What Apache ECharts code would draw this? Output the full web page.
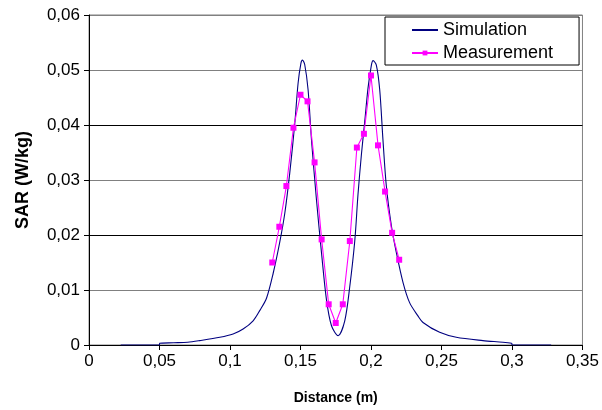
<!DOCTYPE html>
<html>
<head>
<meta charset="utf-8">
<script src="https://cdn.jsdelivr.net/npm/echarts@6/dist/echarts.min.js"></script>
<style>html,body{margin:0;padding:0;background:#fff;}#c{width:602px;height:410px;}</style>
</head>
<body>
<div id="c"></div>
<script>
// Simulation curve (x in m, SAR in W/kg)
var simX = [0.0225,0.05,0.0501,0.06,0.07,0.0786,0.0928,0.1022,0.1093,0.1164,0.1212,0.1259,0.1306,0.1353,0.1389,0.1424,0.146,0.1483,0.1503,0.1514,0.153,0.1554,0.1578,0.1613,0.1649,0.1684,0.172,0.1767,0.1814,0.1849,0.1885,0.1908,0.1932,0.1956,0.1979,0.2003,0.2015,0.2038,0.2062,0.2085,0.2109,0.2145,0.218,0.2227,0.2274,0.2333,0.2369,0.2487,0.2605,0.2794,0.2936,0.2999,0.30,0.3278];
var simY = [0,0,0.0003,0.0004,0.0005,0.0008,0.0014,0.0020,0.0029,0.0044,0.0063,0.0085,0.0130,0.0187,0.0240,0.0313,0.0404,0.0476,0.0512,0.0518,0.0510,0.0464,0.0373,0.0265,0.0168,0.0083,0.0035,0.0017,0.0044,0.0105,0.0189,0.0274,0.0346,0.0407,0.0467,0.0509,0.0517,0.0509,0.0464,0.0373,0.0289,0.0216,0.0168,0.0114,0.0077,0.0053,0.0041,0.0023,0.0014,0.0008,0.0005,0.0003,0,0];
// Measurement points
var measX = [0.13,0.135,0.14,0.145,0.15,0.155,0.16,0.165,0.17,0.175,0.18,0.185,0.19,0.195,0.2,0.205,0.21,0.215,0.22];
var measY = [0.0150,0.0215,0.0289,0.0395,0.0455,0.0443,0.0332,0.0192,0.0074,0.0040,0.0074,0.0189,0.0359,0.0384,0.0490,0.0363,0.0279,0.0204,0.0155];

function pairs(xs, ys){ return xs.map(function(x,i){ return [x, ys[i]]; }); }
function fmt(v){ return String(parseFloat(v.toFixed(3))).replace('.', ','); }

var FONT = 'Liberation Sans, Arial, sans-serif';
var chart = echarts.init(document.getElementById('c'), null, {renderer:'canvas'});
chart.setOption({
  animation: false,
  backgroundColor: '#fff',
  grid: {left: 89, right: 19, top: 15, bottom: 64, show: true, borderColor: '#808080', borderWidth: 1, backgroundColor: 'transparent'},
  legend: {
    orient: 'vertical', left: 385, top: 17,
    backgroundColor: '#fff', borderColor: '#000', borderWidth: 1,
    padding: [4, 26, 3, 26], itemGap: 5, itemWidth: 26, itemHeight: 6,
    textStyle: {fontFamily: FONT, fontSize: 18, color: '#000', lineHeight: 18},
    data: ['Simulation', 'Measurement']
  },
  xAxis: {
    type: 'value', min: 0, max: 0.35, interval: 0.05,
    name: 'Distance (m)', nameLocation: 'middle', nameGap: 46,
    nameTextStyle: {fontFamily: FONT, fontSize: 14, fontWeight: 'bold', color: '#000'},
    axisLine: {show: true, onZero: false, lineStyle: {color: '#000', width: 1}},
    axisTick: {show: true, inside: false, length: 5, lineStyle: {color: '#000'}},
    axisLabel: {fontFamily: FONT, fontSize: 17, color: '#000', margin: 8, formatter: fmt},
    splitLine: {show: false}
  },
  yAxis: {
    type: 'value', min: 0, max: 0.06, interval: 0.01,
    name: 'SAR (W/kg)', nameLocation: 'middle', nameGap: 57, nameRotate: 90,
    nameTextStyle: {fontFamily: FONT, fontSize: 18, fontWeight: 'bold', color: '#000'},
    axisLine: {show: true, onZero: false, lineStyle: {color: '#000', width: 1}},
    axisTick: {show: true, inside: false, length: 5, lineStyle: {color: '#000'}},
    axisLabel: {fontFamily: FONT, fontSize: 17, color: '#000', margin: 9, formatter: fmt},
    splitLine: {show: true, lineStyle: {color: ['#000','#808080','#000','#808080','#000','#808080','#808080'], width: 1}}
  },
  series: [
    {
      name: 'Simulation', type: 'line', data: pairs(simX, simY),
      smooth: 0.3, symbol: 'none', showSymbol: false,
      lineStyle: {color: '#000080', width: 1.1}, itemStyle: {color: 'rgba(0,0,0,0)'},
      z: 2
    },
    {
      name: 'Measurement', type: 'line', data: pairs(measX, measY),
      symbol: 'rect', symbolSize: 6,
      lineStyle: {color: '#FF00FF', width: 1.1}, itemStyle: {color: '#FF00FF'},
      z: 3
    }
  ]
});
</script>
</body>
</html>
